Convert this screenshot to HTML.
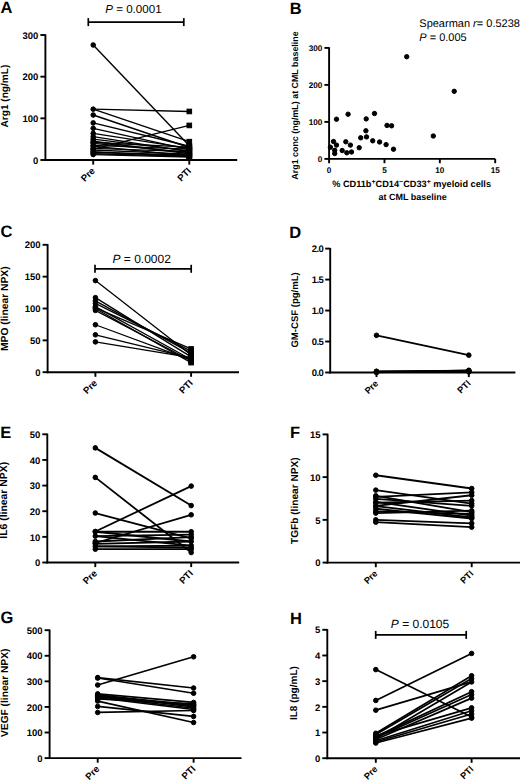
<!DOCTYPE html>
<html><head><meta charset="utf-8"><title>Figure</title>
<style>html,body{margin:0;padding:0;background:#fff;width:520px;height:780px;overflow:hidden}svg{display:block}</style>
</head><body>
<svg text-rendering="geometricPrecision" width="520" height="780" viewBox="0 0 520 780" font-family='"Liberation Sans", sans-serif' fill="#000" stroke="#000">
<line x1="45.4" y1="34.35" x2="45.4" y2="160.95" stroke-width="1.9" stroke-linecap="butt"/>
<line x1="44.45" y1="160" x2="237.2" y2="160" stroke-width="1.9" stroke-linecap="butt"/>
<line x1="40.4" y1="160" x2="45.4" y2="160" stroke-width="1.9" stroke-linecap="butt"/>
<text stroke="none" x="38.4" y="163.66" font-size="9.5" font-weight="bold" text-anchor="end">0</text>
<line x1="40.4" y1="118.33" x2="45.4" y2="118.33" stroke-width="1.9" stroke-linecap="butt"/>
<text stroke="none" x="38.4" y="121.99" font-size="9.5" font-weight="bold" text-anchor="end">100</text>
<line x1="40.4" y1="76.67" x2="45.4" y2="76.67" stroke-width="1.9" stroke-linecap="butt"/>
<text stroke="none" x="38.4" y="80.32" font-size="9.5" font-weight="bold" text-anchor="end">200</text>
<line x1="40.4" y1="35" x2="45.4" y2="35" stroke-width="1.9" stroke-linecap="butt"/>
<text stroke="none" x="38.4" y="38.66" font-size="9.5" font-weight="bold" text-anchor="end">300</text>
<text stroke="none" x="8.3" y="96.1" font-size="10.1" font-weight="bold" text-anchor="middle" transform="rotate(-90 8.3 96.1)">Arg1 (ng/mL)</text>
<text stroke="none" x="0.4" y="13.4" font-size="16.5" font-weight="bold" text-anchor="start">A</text>
<line x1="93.2" y1="160" x2="93.2" y2="164.6" stroke-width="1.9" stroke-linecap="butt"/>
<line x1="189.3" y1="160" x2="189.3" y2="164.6" stroke-width="1.9" stroke-linecap="butt"/>
<text stroke="none" x="95.6" y="171.5" font-size="9.5" font-weight="bold" text-anchor="end" transform="rotate(-45 95.6 171.5)">Pre</text>
<text stroke="none" x="191.7" y="171.5" font-size="9.5" font-weight="bold" text-anchor="end" transform="rotate(-45 191.7 171.5)">PTI</text>
<line x1="93.2" y1="45" x2="189.3" y2="145.83" stroke-width="1.4" stroke-linecap="butt"/>
<line x1="93.2" y1="109.17" x2="189.3" y2="111.46" stroke-width="1.4" stroke-linecap="butt"/>
<line x1="93.2" y1="109.17" x2="189.3" y2="141.67" stroke-width="1.4" stroke-linecap="butt"/>
<line x1="93.2" y1="115" x2="189.3" y2="147.5" stroke-width="1.4" stroke-linecap="butt"/>
<line x1="93.2" y1="122.92" x2="189.3" y2="146.25" stroke-width="1.4" stroke-linecap="butt"/>
<line x1="93.2" y1="128.33" x2="189.3" y2="149.58" stroke-width="1.4" stroke-linecap="butt"/>
<line x1="93.2" y1="133.33" x2="189.3" y2="148.33" stroke-width="1.4" stroke-linecap="butt"/>
<line x1="93.2" y1="136.67" x2="189.3" y2="151.67" stroke-width="1.4" stroke-linecap="butt"/>
<line x1="93.2" y1="139.17" x2="189.3" y2="150.83" stroke-width="1.4" stroke-linecap="butt"/>
<line x1="93.2" y1="141.25" x2="189.3" y2="153.75" stroke-width="1.4" stroke-linecap="butt"/>
<line x1="93.2" y1="142.5" x2="189.3" y2="147.08" stroke-width="1.4" stroke-linecap="butt"/>
<line x1="93.2" y1="143.33" x2="189.3" y2="152.5" stroke-width="1.4" stroke-linecap="butt"/>
<line x1="93.2" y1="145.42" x2="189.3" y2="149.17" stroke-width="1.4" stroke-linecap="butt"/>
<line x1="93.2" y1="146.25" x2="189.3" y2="155.83" stroke-width="1.4" stroke-linecap="butt"/>
<line x1="93.2" y1="148.33" x2="189.3" y2="151.67" stroke-width="1.4" stroke-linecap="butt"/>
<line x1="93.2" y1="149.17" x2="189.3" y2="125.42" stroke-width="1.4" stroke-linecap="butt"/>
<line x1="93.2" y1="150" x2="189.3" y2="154.17" stroke-width="1.4" stroke-linecap="butt"/>
<line x1="93.2" y1="151.67" x2="189.3" y2="156.67" stroke-width="1.4" stroke-linecap="butt"/>
<line x1="93.2" y1="152.5" x2="189.3" y2="155" stroke-width="1.4" stroke-linecap="butt"/>
<line x1="93.2" y1="153.75" x2="189.3" y2="156.25" stroke-width="1.4" stroke-linecap="butt"/>
<line x1="93.2" y1="154.58" x2="189.3" y2="157.08" stroke-width="1.4" stroke-linecap="butt"/>
<circle cx="93.2" cy="154.58" r="2.3"/>
<circle cx="93.2" cy="153.75" r="2.3"/>
<circle cx="93.2" cy="152.5" r="2.3"/>
<circle cx="93.2" cy="151.67" r="2.3"/>
<circle cx="93.2" cy="150" r="2.3"/>
<circle cx="93.2" cy="149.17" r="2.3"/>
<circle cx="93.2" cy="148.33" r="2.3"/>
<circle cx="93.2" cy="146.25" r="2.3"/>
<circle cx="93.2" cy="145.42" r="2.3"/>
<circle cx="93.2" cy="143.33" r="2.3"/>
<circle cx="93.2" cy="142.5" r="2.3"/>
<circle cx="93.2" cy="141.25" r="2.3"/>
<circle cx="93.2" cy="139.17" r="2.3"/>
<circle cx="93.2" cy="136.67" r="2.3"/>
<circle cx="93.2" cy="133.33" r="2.3"/>
<circle cx="93.2" cy="128.33" r="2.3"/>
<circle cx="93.2" cy="122.92" r="2.3"/>
<circle cx="93.2" cy="115" r="2.3"/>
<circle cx="93.2" cy="109.17" r="2.3"/>
<circle cx="93.2" cy="45" r="2.3"/>
<rect x="187" y="154.78" width="4.6" height="4.6"/>
<rect x="187" y="154.37" width="4.6" height="4.6"/>
<rect x="187" y="153.95" width="4.6" height="4.6"/>
<rect x="187" y="153.53" width="4.6" height="4.6"/>
<rect x="187" y="152.7" width="4.6" height="4.6"/>
<rect x="187" y="151.87" width="4.6" height="4.6"/>
<rect x="187" y="151.45" width="4.6" height="4.6"/>
<rect x="187" y="150.2" width="4.6" height="4.6"/>
<rect x="187" y="149.37" width="4.6" height="4.6"/>
<rect x="187" y="148.53" width="4.6" height="4.6"/>
<rect x="187" y="147.28" width="4.6" height="4.6"/>
<rect x="187" y="146.87" width="4.6" height="4.6"/>
<rect x="187" y="146.03" width="4.6" height="4.6"/>
<rect x="187" y="145.2" width="4.6" height="4.6"/>
<rect x="187" y="144.78" width="4.6" height="4.6"/>
<rect x="187" y="143.95" width="4.6" height="4.6"/>
<rect x="187" y="143.53" width="4.6" height="4.6"/>
<rect x="187" y="139.37" width="4.6" height="4.6"/>
<rect x="187" y="123.12" width="4.6" height="4.6"/>
<rect x="187" y="109.16" width="4.6" height="4.6"/>
<line x1="88.3" y1="22.1" x2="183.8" y2="22.1" stroke-width="1.7" stroke-linecap="butt"/>
<line x1="88.3" y1="18.1" x2="88.3" y2="26.1" stroke-width="1.7" stroke-linecap="butt"/>
<line x1="183.8" y1="18.1" x2="183.8" y2="26.1" stroke-width="1.7" stroke-linecap="butt"/>
<text stroke="none" x="133.4" y="12.8" font-size="11.6" text-anchor="middle"><tspan font-style="italic">P</tspan> = 0.0001</text>
<line x1="47.6" y1="244.15" x2="47.6" y2="373.15" stroke-width="1.9" stroke-linecap="butt"/>
<line x1="46.65" y1="372.2" x2="239" y2="372.2" stroke-width="1.9" stroke-linecap="butt"/>
<line x1="42.6" y1="372.2" x2="47.6" y2="372.2" stroke-width="1.9" stroke-linecap="butt"/>
<text stroke="none" x="40.6" y="375.86" font-size="9.5" font-weight="bold" text-anchor="end">0</text>
<line x1="42.6" y1="340.35" x2="47.6" y2="340.35" stroke-width="1.9" stroke-linecap="butt"/>
<text stroke="none" x="40.6" y="344.01" font-size="9.5" font-weight="bold" text-anchor="end">50</text>
<line x1="42.6" y1="308.5" x2="47.6" y2="308.5" stroke-width="1.9" stroke-linecap="butt"/>
<text stroke="none" x="40.6" y="312.16" font-size="9.5" font-weight="bold" text-anchor="end">100</text>
<line x1="42.6" y1="276.65" x2="47.6" y2="276.65" stroke-width="1.9" stroke-linecap="butt"/>
<text stroke="none" x="40.6" y="280.31" font-size="9.5" font-weight="bold" text-anchor="end">150</text>
<line x1="42.6" y1="244.8" x2="47.6" y2="244.8" stroke-width="1.9" stroke-linecap="butt"/>
<text stroke="none" x="40.6" y="248.46" font-size="9.5" font-weight="bold" text-anchor="end">200</text>
<text stroke="none" x="7.6" y="308.7" font-size="10.3" font-weight="bold" text-anchor="middle" transform="rotate(-90 7.6 308.7)">MPO (linear NPX)</text>
<text stroke="none" x="0.5" y="237.1" font-size="16.5" font-weight="bold" text-anchor="start">C</text>
<line x1="95.4" y1="372.2" x2="95.4" y2="376.8" stroke-width="1.9" stroke-linecap="butt"/>
<line x1="191.1" y1="372.2" x2="191.1" y2="376.8" stroke-width="1.9" stroke-linecap="butt"/>
<text stroke="none" x="97.8" y="383.7" font-size="9.5" font-weight="bold" text-anchor="end" transform="rotate(-45 97.8 383.7)">Pre</text>
<text stroke="none" x="193.5" y="383.7" font-size="9.5" font-weight="bold" text-anchor="end" transform="rotate(-45 193.5 383.7)">PTI</text>
<line x1="95.4" y1="280.6" x2="191.1" y2="355" stroke-width="1.3" stroke-linecap="butt"/>
<line x1="95.4" y1="297.67" x2="191.1" y2="356.91" stroke-width="1.3" stroke-linecap="butt"/>
<line x1="95.4" y1="300.86" x2="191.1" y2="353.09" stroke-width="1.3" stroke-linecap="butt"/>
<line x1="95.4" y1="303.4" x2="191.1" y2="351.18" stroke-width="1.3" stroke-linecap="butt"/>
<line x1="95.4" y1="306.59" x2="191.1" y2="359.46" stroke-width="1.3" stroke-linecap="butt"/>
<line x1="95.4" y1="308.5" x2="191.1" y2="362.64" stroke-width="1.3" stroke-linecap="butt"/>
<line x1="95.4" y1="310.41" x2="191.1" y2="360.73" stroke-width="1.3" stroke-linecap="butt"/>
<line x1="95.4" y1="307.86" x2="191.1" y2="348.95" stroke-width="1.3" stroke-linecap="butt"/>
<line x1="95.4" y1="324.74" x2="191.1" y2="360.1" stroke-width="1.3" stroke-linecap="butt"/>
<line x1="95.4" y1="334.81" x2="191.1" y2="358.19" stroke-width="1.3" stroke-linecap="butt"/>
<line x1="95.4" y1="341.88" x2="191.1" y2="357.55" stroke-width="1.3" stroke-linecap="butt"/>
<circle cx="95.4" cy="341.88" r="2.3"/>
<circle cx="95.4" cy="334.81" r="2.3"/>
<circle cx="95.4" cy="324.74" r="2.3"/>
<circle cx="95.4" cy="310.41" r="2.3"/>
<circle cx="95.4" cy="308.5" r="2.3"/>
<circle cx="95.4" cy="307.86" r="2.3"/>
<circle cx="95.4" cy="306.59" r="2.3"/>
<circle cx="95.4" cy="303.4" r="2.3"/>
<circle cx="95.4" cy="300.86" r="2.3"/>
<circle cx="95.4" cy="297.67" r="2.3"/>
<circle cx="95.4" cy="280.6" r="2.3"/>
<rect x="188.8" y="360.34" width="4.6" height="4.6"/>
<rect x="188.8" y="358.43" width="4.6" height="4.6"/>
<rect x="188.8" y="357.8" width="4.6" height="4.6"/>
<rect x="188.8" y="357.16" width="4.6" height="4.6"/>
<rect x="188.8" y="355.89" width="4.6" height="4.6"/>
<rect x="188.8" y="355.25" width="4.6" height="4.6"/>
<rect x="188.8" y="354.61" width="4.6" height="4.6"/>
<rect x="188.8" y="352.7" width="4.6" height="4.6"/>
<rect x="188.8" y="350.79" width="4.6" height="4.6"/>
<rect x="188.8" y="348.88" width="4.6" height="4.6"/>
<rect x="188.8" y="346.65" width="4.6" height="4.6"/>
<line x1="95" y1="268.8" x2="191.2" y2="268.8" stroke-width="1.7" stroke-linecap="butt"/>
<line x1="95" y1="264.8" x2="95" y2="272.8" stroke-width="1.7" stroke-linecap="butt"/>
<line x1="191.2" y1="264.8" x2="191.2" y2="272.8" stroke-width="1.7" stroke-linecap="butt"/>
<text stroke="none" x="141.7" y="262.8" font-size="12" text-anchor="middle"><tspan font-style="italic">P</tspan> = 0.0002</text>
<line x1="47.3" y1="433.65" x2="47.3" y2="563.45" stroke-width="1.9" stroke-linecap="butt"/>
<line x1="46.35" y1="562.5" x2="239.2" y2="562.5" stroke-width="1.9" stroke-linecap="butt"/>
<line x1="42.3" y1="562.5" x2="47.3" y2="562.5" stroke-width="1.9" stroke-linecap="butt"/>
<text stroke="none" x="40.3" y="566.16" font-size="9.5" font-weight="bold" text-anchor="end">0</text>
<line x1="42.3" y1="536.86" x2="47.3" y2="536.86" stroke-width="1.9" stroke-linecap="butt"/>
<text stroke="none" x="40.3" y="540.52" font-size="9.5" font-weight="bold" text-anchor="end">10</text>
<line x1="42.3" y1="511.22" x2="47.3" y2="511.22" stroke-width="1.9" stroke-linecap="butt"/>
<text stroke="none" x="40.3" y="514.88" font-size="9.5" font-weight="bold" text-anchor="end">20</text>
<line x1="42.3" y1="485.58" x2="47.3" y2="485.58" stroke-width="1.9" stroke-linecap="butt"/>
<text stroke="none" x="40.3" y="489.24" font-size="9.5" font-weight="bold" text-anchor="end">30</text>
<line x1="42.3" y1="459.94" x2="47.3" y2="459.94" stroke-width="1.9" stroke-linecap="butt"/>
<text stroke="none" x="40.3" y="463.6" font-size="9.5" font-weight="bold" text-anchor="end">40</text>
<line x1="42.3" y1="434.3" x2="47.3" y2="434.3" stroke-width="1.9" stroke-linecap="butt"/>
<text stroke="none" x="40.3" y="437.96" font-size="9.5" font-weight="bold" text-anchor="end">50</text>
<text stroke="none" x="7.5" y="500.3" font-size="10.4" font-weight="bold" text-anchor="middle" transform="rotate(-90 7.5 500.3)">IL6 (linear NPX)</text>
<text stroke="none" x="0.3" y="438.3" font-size="16.5" font-weight="bold" text-anchor="start">E</text>
<line x1="95.3" y1="562.5" x2="95.3" y2="567.1" stroke-width="1.9" stroke-linecap="butt"/>
<line x1="191.2" y1="562.5" x2="191.2" y2="567.1" stroke-width="1.9" stroke-linecap="butt"/>
<text stroke="none" x="97.7" y="574" font-size="9.5" font-weight="bold" text-anchor="end" transform="rotate(-45 97.7 574)">Pre</text>
<text stroke="none" x="193.6" y="574" font-size="9.5" font-weight="bold" text-anchor="end" transform="rotate(-45 193.6 574)">PTI</text>
<line x1="95.3" y1="447.89" x2="191.2" y2="505.58" stroke-width="1.8" stroke-linecap="butt"/>
<line x1="95.3" y1="477.38" x2="191.2" y2="552.5" stroke-width="1.8" stroke-linecap="butt"/>
<line x1="95.3" y1="513.01" x2="191.2" y2="538.4" stroke-width="1.8" stroke-linecap="butt"/>
<line x1="95.3" y1="531.48" x2="191.2" y2="486.09" stroke-width="1.8" stroke-linecap="butt"/>
<line x1="95.3" y1="531.73" x2="191.2" y2="531.73" stroke-width="1.8" stroke-linecap="butt"/>
<line x1="95.3" y1="536.09" x2="191.2" y2="534.55" stroke-width="1.8" stroke-linecap="butt"/>
<line x1="95.3" y1="543.01" x2="191.2" y2="514.81" stroke-width="1.8" stroke-linecap="butt"/>
<line x1="95.3" y1="541.48" x2="191.2" y2="537.12" stroke-width="1.8" stroke-linecap="butt"/>
<line x1="95.3" y1="536.09" x2="191.2" y2="545.58" stroke-width="1.8" stroke-linecap="butt"/>
<line x1="95.3" y1="543.78" x2="191.2" y2="541.48" stroke-width="1.8" stroke-linecap="butt"/>
<line x1="95.3" y1="546.35" x2="191.2" y2="547.63" stroke-width="1.8" stroke-linecap="butt"/>
<line x1="95.3" y1="549.17" x2="191.2" y2="549.17" stroke-width="1.8" stroke-linecap="butt"/>
<line x1="95.3" y1="546.35" x2="191.2" y2="545.58" stroke-width="1.8" stroke-linecap="butt"/>
<line x1="95.3" y1="531.73" x2="191.2" y2="541.48" stroke-width="1.8" stroke-linecap="butt"/>
<circle cx="95.3" cy="549.17" r="2.3"/>
<circle cx="95.3" cy="546.35" r="2.3"/>
<circle cx="95.3" cy="543.78" r="2.3"/>
<circle cx="95.3" cy="543.01" r="2.3"/>
<circle cx="95.3" cy="541.48" r="2.3"/>
<circle cx="95.3" cy="536.09" r="2.3"/>
<circle cx="95.3" cy="531.73" r="2.3"/>
<circle cx="95.3" cy="531.48" r="2.3"/>
<circle cx="95.3" cy="513.01" r="2.3"/>
<circle cx="95.3" cy="477.38" r="2.3"/>
<circle cx="95.3" cy="447.89" r="2.3"/>
<circle cx="191.2" cy="552.5" r="2.3"/>
<circle cx="191.2" cy="549.17" r="2.3"/>
<circle cx="191.2" cy="547.63" r="2.3"/>
<circle cx="191.2" cy="545.58" r="2.3"/>
<circle cx="191.2" cy="541.48" r="2.3"/>
<circle cx="191.2" cy="538.4" r="2.3"/>
<circle cx="191.2" cy="537.12" r="2.3"/>
<circle cx="191.2" cy="534.55" r="2.3"/>
<circle cx="191.2" cy="531.73" r="2.3"/>
<circle cx="191.2" cy="514.81" r="2.3"/>
<circle cx="191.2" cy="505.58" r="2.3"/>
<circle cx="191.2" cy="486.09" r="2.3"/>
<line x1="49.6" y1="629.55" x2="49.6" y2="759.05" stroke-width="1.9" stroke-linecap="butt"/>
<line x1="48.65" y1="758.1" x2="241.5" y2="758.1" stroke-width="1.9" stroke-linecap="butt"/>
<line x1="44.6" y1="758.1" x2="49.6" y2="758.1" stroke-width="1.9" stroke-linecap="butt"/>
<text stroke="none" x="42.6" y="761.76" font-size="9.5" font-weight="bold" text-anchor="end">0</text>
<line x1="44.6" y1="732.52" x2="49.6" y2="732.52" stroke-width="1.9" stroke-linecap="butt"/>
<text stroke="none" x="42.6" y="736.18" font-size="9.5" font-weight="bold" text-anchor="end">100</text>
<line x1="44.6" y1="706.94" x2="49.6" y2="706.94" stroke-width="1.9" stroke-linecap="butt"/>
<text stroke="none" x="42.6" y="710.6" font-size="9.5" font-weight="bold" text-anchor="end">200</text>
<line x1="44.6" y1="681.36" x2="49.6" y2="681.36" stroke-width="1.9" stroke-linecap="butt"/>
<text stroke="none" x="42.6" y="685.02" font-size="9.5" font-weight="bold" text-anchor="end">300</text>
<line x1="44.6" y1="655.78" x2="49.6" y2="655.78" stroke-width="1.9" stroke-linecap="butt"/>
<text stroke="none" x="42.6" y="659.44" font-size="9.5" font-weight="bold" text-anchor="end">400</text>
<line x1="44.6" y1="630.2" x2="49.6" y2="630.2" stroke-width="1.9" stroke-linecap="butt"/>
<text stroke="none" x="42.6" y="633.86" font-size="9.5" font-weight="bold" text-anchor="end">500</text>
<text stroke="none" x="7.7" y="692.8" font-size="10.2" font-weight="bold" text-anchor="middle" transform="rotate(-90 7.7 692.8)">VEGF (linear NPX)</text>
<text stroke="none" x="0.4" y="622.9" font-size="16.5" font-weight="bold" text-anchor="start">G</text>
<line x1="97.7" y1="758.1" x2="97.7" y2="762.7" stroke-width="1.9" stroke-linecap="butt"/>
<line x1="193.6" y1="758.1" x2="193.6" y2="762.7" stroke-width="1.9" stroke-linecap="butt"/>
<text stroke="none" x="100.1" y="769.6" font-size="9.5" font-weight="bold" text-anchor="end" transform="rotate(-45 100.1 769.6)">Pre</text>
<text stroke="none" x="196" y="769.6" font-size="9.5" font-weight="bold" text-anchor="end" transform="rotate(-45 196 769.6)">PTI</text>
<line x1="97.7" y1="677.63" x2="193.6" y2="688.01" stroke-width="1.7" stroke-linecap="butt"/>
<line x1="97.7" y1="685.04" x2="193.6" y2="656.8" stroke-width="1.7" stroke-linecap="butt"/>
<line x1="97.7" y1="678.03" x2="193.6" y2="693.25" stroke-width="1.7" stroke-linecap="butt"/>
<line x1="97.7" y1="693.89" x2="193.6" y2="702.44" stroke-width="1.7" stroke-linecap="butt"/>
<line x1="97.7" y1="695.43" x2="193.6" y2="704.89" stroke-width="1.7" stroke-linecap="butt"/>
<line x1="97.7" y1="696.71" x2="193.6" y2="708.22" stroke-width="1.7" stroke-linecap="butt"/>
<line x1="97.7" y1="697.73" x2="193.6" y2="709.5" stroke-width="1.7" stroke-linecap="butt"/>
<line x1="97.7" y1="699.01" x2="193.6" y2="703.87" stroke-width="1.7" stroke-linecap="butt"/>
<line x1="97.7" y1="701.06" x2="193.6" y2="722.54" stroke-width="1.7" stroke-linecap="butt"/>
<line x1="97.7" y1="706.43" x2="193.6" y2="716.4" stroke-width="1.7" stroke-linecap="butt"/>
<line x1="97.7" y1="712.44" x2="193.6" y2="710.52" stroke-width="1.7" stroke-linecap="butt"/>
<line x1="97.7" y1="694.92" x2="193.6" y2="706.94" stroke-width="1.7" stroke-linecap="butt"/>
<line x1="97.7" y1="695.94" x2="193.6" y2="705.66" stroke-width="1.7" stroke-linecap="butt"/>
<circle cx="97.7" cy="712.44" r="2.3"/>
<circle cx="97.7" cy="706.43" r="2.3"/>
<circle cx="97.7" cy="701.06" r="2.3"/>
<circle cx="97.7" cy="699.01" r="2.3"/>
<circle cx="97.7" cy="697.73" r="2.3"/>
<circle cx="97.7" cy="696.71" r="2.3"/>
<circle cx="97.7" cy="695.94" r="2.3"/>
<circle cx="97.7" cy="695.43" r="2.3"/>
<circle cx="97.7" cy="694.92" r="2.3"/>
<circle cx="97.7" cy="693.89" r="2.3"/>
<circle cx="97.7" cy="685.04" r="2.3"/>
<circle cx="97.7" cy="678.03" r="2.3"/>
<circle cx="97.7" cy="677.63" r="2.3"/>
<circle cx="193.6" cy="722.54" r="2.3"/>
<circle cx="193.6" cy="716.4" r="2.3"/>
<circle cx="193.6" cy="710.52" r="2.3"/>
<circle cx="193.6" cy="709.5" r="2.3"/>
<circle cx="193.6" cy="708.22" r="2.3"/>
<circle cx="193.6" cy="706.94" r="2.3"/>
<circle cx="193.6" cy="705.66" r="2.3"/>
<circle cx="193.6" cy="704.89" r="2.3"/>
<circle cx="193.6" cy="703.87" r="2.3"/>
<circle cx="193.6" cy="702.44" r="2.3"/>
<circle cx="193.6" cy="693.25" r="2.3"/>
<circle cx="193.6" cy="688.01" r="2.3"/>
<circle cx="193.6" cy="656.8" r="2.3"/>
<line x1="330.2" y1="247.95" x2="330.2" y2="373.45" stroke-width="1.9" stroke-linecap="butt"/>
<line x1="329.25" y1="372.5" x2="515.4" y2="372.5" stroke-width="1.9" stroke-linecap="butt"/>
<line x1="325.2" y1="372.5" x2="330.2" y2="372.5" stroke-width="1.9" stroke-linecap="butt"/>
<text stroke="none" x="323.2" y="376.16" font-size="9.5" font-weight="bold" text-anchor="end" letter-spacing="-0.6">0.0</text>
<line x1="325.2" y1="341.52" x2="330.2" y2="341.52" stroke-width="1.9" stroke-linecap="butt"/>
<text stroke="none" x="323.2" y="345.18" font-size="9.5" font-weight="bold" text-anchor="end" letter-spacing="-0.6">0.5</text>
<line x1="325.2" y1="310.55" x2="330.2" y2="310.55" stroke-width="1.9" stroke-linecap="butt"/>
<text stroke="none" x="323.2" y="314.21" font-size="9.5" font-weight="bold" text-anchor="end" letter-spacing="-0.6">1.0</text>
<line x1="325.2" y1="279.57" x2="330.2" y2="279.57" stroke-width="1.9" stroke-linecap="butt"/>
<text stroke="none" x="323.2" y="283.23" font-size="9.5" font-weight="bold" text-anchor="end" letter-spacing="-0.6">1.5</text>
<line x1="325.2" y1="248.6" x2="330.2" y2="248.6" stroke-width="1.9" stroke-linecap="butt"/>
<text stroke="none" x="323.2" y="252.26" font-size="9.5" font-weight="bold" text-anchor="end" letter-spacing="-0.6">2.0</text>
<text stroke="none" x="297.8" y="309.9" font-size="9.55" font-weight="bold" text-anchor="middle" transform="rotate(-90 297.8 309.9)">GM-CSF (pg/mL)</text>
<text stroke="none" x="289.2" y="237.7" font-size="16.5" font-weight="bold" text-anchor="start">D</text>
<line x1="376.5" y1="372.5" x2="376.5" y2="377.1" stroke-width="1.9" stroke-linecap="butt"/>
<line x1="468.8" y1="372.5" x2="468.8" y2="377.1" stroke-width="1.9" stroke-linecap="butt"/>
<text stroke="none" x="378.9" y="384" font-size="9.2" font-weight="bold" text-anchor="end" transform="rotate(-45 378.9 384)">Pre</text>
<text stroke="none" x="471.2" y="384" font-size="9.2" font-weight="bold" text-anchor="end" transform="rotate(-45 471.2 384)">PTI</text>
<line x1="376.5" y1="335.33" x2="468.8" y2="355.15" stroke-width="1.7" stroke-linecap="butt"/>
<line x1="376.5" y1="371.26" x2="468.8" y2="370.64" stroke-width="1.7" stroke-linecap="butt"/>
<line x1="376.5" y1="371.88" x2="468.8" y2="371.26" stroke-width="1.7" stroke-linecap="butt"/>
<line x1="376.5" y1="371.57" x2="468.8" y2="370.95" stroke-width="1.7" stroke-linecap="butt"/>
<line x1="376.5" y1="372.19" x2="468.8" y2="371.88" stroke-width="1.7" stroke-linecap="butt"/>
<line x1="376.5" y1="372.5" x2="468.8" y2="370.33" stroke-width="1.7" stroke-linecap="butt"/>
<circle cx="376.5" cy="372.5" r="2.3"/>
<circle cx="376.5" cy="372.19" r="2.3"/>
<circle cx="376.5" cy="371.88" r="2.3"/>
<circle cx="376.5" cy="371.57" r="2.3"/>
<circle cx="376.5" cy="371.26" r="2.3"/>
<circle cx="376.5" cy="335.33" r="2.3"/>
<circle cx="468.8" cy="371.88" r="2.3"/>
<circle cx="468.8" cy="371.26" r="2.3"/>
<circle cx="468.8" cy="370.95" r="2.3"/>
<circle cx="468.8" cy="370.64" r="2.3"/>
<circle cx="468.8" cy="370.33" r="2.3"/>
<circle cx="468.8" cy="355.15" r="2.3"/>
<line x1="327.6" y1="433.75" x2="327.6" y2="563.55" stroke-width="1.9" stroke-linecap="butt"/>
<line x1="326.65" y1="562.6" x2="520" y2="562.6" stroke-width="1.9" stroke-linecap="butt"/>
<line x1="322.6" y1="562.6" x2="327.6" y2="562.6" stroke-width="1.9" stroke-linecap="butt"/>
<text stroke="none" x="320.6" y="566.26" font-size="9.5" font-weight="bold" text-anchor="end">0</text>
<line x1="322.6" y1="519.87" x2="327.6" y2="519.87" stroke-width="1.9" stroke-linecap="butt"/>
<text stroke="none" x="320.6" y="523.52" font-size="9.5" font-weight="bold" text-anchor="end">5</text>
<line x1="322.6" y1="477.13" x2="327.6" y2="477.13" stroke-width="1.9" stroke-linecap="butt"/>
<text stroke="none" x="320.6" y="480.79" font-size="9.5" font-weight="bold" text-anchor="end">10</text>
<line x1="322.6" y1="434.4" x2="327.6" y2="434.4" stroke-width="1.9" stroke-linecap="butt"/>
<text stroke="none" x="320.6" y="438.06" font-size="9.5" font-weight="bold" text-anchor="end">15</text>
<text stroke="none" x="297.6" y="500.7" font-size="10.15" font-weight="bold" text-anchor="middle" transform="rotate(-90 297.6 500.7)">TGFb (linear NPX)</text>
<text stroke="none" x="290" y="437.7" font-size="16.5" font-weight="bold" text-anchor="start">F</text>
<line x1="375.8" y1="562.6" x2="375.8" y2="567.2" stroke-width="1.9" stroke-linecap="butt"/>
<line x1="471.7" y1="562.6" x2="471.7" y2="567.2" stroke-width="1.9" stroke-linecap="butt"/>
<text stroke="none" x="378.2" y="574.1" font-size="9.2" font-weight="bold" text-anchor="end" transform="rotate(-45 378.2 574.1)">Pre</text>
<text stroke="none" x="474.1" y="574.1" font-size="9.2" font-weight="bold" text-anchor="end" transform="rotate(-45 474.1 574.1)">PTI</text>
<line x1="375.8" y1="475.25" x2="471.7" y2="488.5" stroke-width="1.8" stroke-linecap="butt"/>
<line x1="375.8" y1="490.12" x2="471.7" y2="503.63" stroke-width="1.8" stroke-linecap="butt"/>
<line x1="375.8" y1="495.77" x2="471.7" y2="512.17" stroke-width="1.8" stroke-linecap="butt"/>
<line x1="375.8" y1="496.79" x2="471.7" y2="492.35" stroke-width="1.8" stroke-linecap="butt"/>
<line x1="375.8" y1="498.93" x2="471.7" y2="505.85" stroke-width="1.8" stroke-linecap="butt"/>
<line x1="375.8" y1="501.92" x2="471.7" y2="515.59" stroke-width="1.8" stroke-linecap="butt"/>
<line x1="375.8" y1="502.77" x2="471.7" y2="500.55" stroke-width="1.8" stroke-linecap="butt"/>
<line x1="375.8" y1="505.85" x2="471.7" y2="495.25" stroke-width="1.8" stroke-linecap="butt"/>
<line x1="375.8" y1="508.76" x2="471.7" y2="518.5" stroke-width="1.8" stroke-linecap="butt"/>
<line x1="375.8" y1="511.32" x2="471.7" y2="513.88" stroke-width="1.8" stroke-linecap="butt"/>
<line x1="375.8" y1="513.11" x2="471.7" y2="510.72" stroke-width="1.8" stroke-linecap="butt"/>
<line x1="375.8" y1="506.19" x2="471.7" y2="517.3" stroke-width="1.8" stroke-linecap="butt"/>
<line x1="375.8" y1="519.87" x2="471.7" y2="523.29" stroke-width="1.8" stroke-linecap="butt"/>
<line x1="375.8" y1="522.17" x2="471.7" y2="527.13" stroke-width="1.8" stroke-linecap="butt"/>
<circle cx="375.8" cy="522.17" r="2.3"/>
<circle cx="375.8" cy="519.87" r="2.3"/>
<circle cx="375.8" cy="513.11" r="2.3"/>
<circle cx="375.8" cy="511.32" r="2.3"/>
<circle cx="375.8" cy="508.76" r="2.3"/>
<circle cx="375.8" cy="506.19" r="2.3"/>
<circle cx="375.8" cy="505.85" r="2.3"/>
<circle cx="375.8" cy="502.77" r="2.3"/>
<circle cx="375.8" cy="501.92" r="2.3"/>
<circle cx="375.8" cy="498.93" r="2.3"/>
<circle cx="375.8" cy="496.79" r="2.3"/>
<circle cx="375.8" cy="495.77" r="2.3"/>
<circle cx="375.8" cy="490.12" r="2.3"/>
<circle cx="375.8" cy="475.25" r="2.3"/>
<circle cx="471.7" cy="527.13" r="2.3"/>
<circle cx="471.7" cy="523.29" r="2.3"/>
<circle cx="471.7" cy="518.5" r="2.3"/>
<circle cx="471.7" cy="517.3" r="2.3"/>
<circle cx="471.7" cy="515.59" r="2.3"/>
<circle cx="471.7" cy="513.88" r="2.3"/>
<circle cx="471.7" cy="512.17" r="2.3"/>
<circle cx="471.7" cy="510.72" r="2.3"/>
<circle cx="471.7" cy="505.85" r="2.3"/>
<circle cx="471.7" cy="503.63" r="2.3"/>
<circle cx="471.7" cy="500.55" r="2.3"/>
<circle cx="471.7" cy="495.25" r="2.3"/>
<circle cx="471.7" cy="492.35" r="2.3"/>
<circle cx="471.7" cy="488.5" r="2.3"/>
<line x1="327.3" y1="629.15" x2="327.3" y2="759.15" stroke-width="1.9" stroke-linecap="butt"/>
<line x1="326.35" y1="758.2" x2="520" y2="758.2" stroke-width="1.9" stroke-linecap="butt"/>
<line x1="322.3" y1="758.2" x2="327.3" y2="758.2" stroke-width="1.9" stroke-linecap="butt"/>
<text stroke="none" x="320.3" y="761.86" font-size="9.5" font-weight="bold" text-anchor="end">0</text>
<line x1="322.3" y1="732.52" x2="327.3" y2="732.52" stroke-width="1.9" stroke-linecap="butt"/>
<text stroke="none" x="320.3" y="736.18" font-size="9.5" font-weight="bold" text-anchor="end">1</text>
<line x1="322.3" y1="706.84" x2="327.3" y2="706.84" stroke-width="1.9" stroke-linecap="butt"/>
<text stroke="none" x="320.3" y="710.5" font-size="9.5" font-weight="bold" text-anchor="end">2</text>
<line x1="322.3" y1="681.16" x2="327.3" y2="681.16" stroke-width="1.9" stroke-linecap="butt"/>
<text stroke="none" x="320.3" y="684.82" font-size="9.5" font-weight="bold" text-anchor="end">3</text>
<line x1="322.3" y1="655.48" x2="327.3" y2="655.48" stroke-width="1.9" stroke-linecap="butt"/>
<text stroke="none" x="320.3" y="659.14" font-size="9.5" font-weight="bold" text-anchor="end">4</text>
<line x1="322.3" y1="629.8" x2="327.3" y2="629.8" stroke-width="1.9" stroke-linecap="butt"/>
<text stroke="none" x="320.3" y="633.46" font-size="9.5" font-weight="bold" text-anchor="end">5</text>
<text stroke="none" x="297.4" y="693.1" font-size="10" font-weight="bold" text-anchor="middle" transform="rotate(-90 297.4 693.1)">IL8 (pg/mL)</text>
<text stroke="none" x="290" y="623.5" font-size="16.5" font-weight="bold" text-anchor="start">H</text>
<line x1="375.8" y1="758.2" x2="375.8" y2="762.8" stroke-width="1.9" stroke-linecap="butt"/>
<line x1="471.6" y1="758.2" x2="471.6" y2="762.8" stroke-width="1.9" stroke-linecap="butt"/>
<text stroke="none" x="378.2" y="769.7" font-size="9.2" font-weight="bold" text-anchor="end" transform="rotate(-45 378.2 769.7)">Pre</text>
<text stroke="none" x="474" y="769.7" font-size="9.2" font-weight="bold" text-anchor="end" transform="rotate(-45 474 769.7)">PTI</text>
<line x1="375.8" y1="669.6" x2="471.6" y2="717.11" stroke-width="1.7" stroke-linecap="butt"/>
<line x1="375.8" y1="700.42" x2="471.6" y2="653.43" stroke-width="1.7" stroke-linecap="butt"/>
<line x1="375.8" y1="710.18" x2="471.6" y2="681.93" stroke-width="1.7" stroke-linecap="butt"/>
<line x1="375.8" y1="733.29" x2="471.6" y2="675.77" stroke-width="1.7" stroke-linecap="butt"/>
<line x1="375.8" y1="734.57" x2="471.6" y2="678.59" stroke-width="1.7" stroke-linecap="butt"/>
<line x1="375.8" y1="736.63" x2="471.6" y2="691.69" stroke-width="1.7" stroke-linecap="butt"/>
<line x1="375.8" y1="737.66" x2="471.6" y2="694.51" stroke-width="1.7" stroke-linecap="butt"/>
<line x1="375.8" y1="739.45" x2="471.6" y2="698.11" stroke-width="1.7" stroke-linecap="butt"/>
<line x1="375.8" y1="735.86" x2="471.6" y2="707.87" stroke-width="1.7" stroke-linecap="butt"/>
<line x1="375.8" y1="740.74" x2="471.6" y2="710.69" stroke-width="1.7" stroke-linecap="butt"/>
<line x1="375.8" y1="742.02" x2="471.6" y2="714.03" stroke-width="1.7" stroke-linecap="butt"/>
<line x1="375.8" y1="743.05" x2="471.6" y2="718.14" stroke-width="1.7" stroke-linecap="butt"/>
<line x1="375.8" y1="738.43" x2="471.6" y2="681.93" stroke-width="1.7" stroke-linecap="butt"/>
<circle cx="375.8" cy="743.05" r="2.3"/>
<circle cx="375.8" cy="742.02" r="2.3"/>
<circle cx="375.8" cy="740.74" r="2.3"/>
<circle cx="375.8" cy="739.45" r="2.3"/>
<circle cx="375.8" cy="738.43" r="2.3"/>
<circle cx="375.8" cy="737.66" r="2.3"/>
<circle cx="375.8" cy="736.63" r="2.3"/>
<circle cx="375.8" cy="735.86" r="2.3"/>
<circle cx="375.8" cy="734.57" r="2.3"/>
<circle cx="375.8" cy="733.29" r="2.3"/>
<circle cx="375.8" cy="710.18" r="2.3"/>
<circle cx="375.8" cy="700.42" r="2.3"/>
<circle cx="375.8" cy="669.6" r="2.3"/>
<circle cx="471.6" cy="718.14" r="2.3"/>
<circle cx="471.6" cy="717.11" r="2.3"/>
<circle cx="471.6" cy="714.03" r="2.3"/>
<circle cx="471.6" cy="710.69" r="2.3"/>
<circle cx="471.6" cy="707.87" r="2.3"/>
<circle cx="471.6" cy="698.11" r="2.3"/>
<circle cx="471.6" cy="694.51" r="2.3"/>
<circle cx="471.6" cy="691.69" r="2.3"/>
<circle cx="471.6" cy="681.93" r="2.3"/>
<circle cx="471.6" cy="678.59" r="2.3"/>
<circle cx="471.6" cy="675.77" r="2.3"/>
<circle cx="471.6" cy="653.43" r="2.3"/>
<line x1="375.7" y1="634.9" x2="466.2" y2="634.9" stroke-width="1.7" stroke-linecap="butt"/>
<line x1="375.7" y1="630.9" x2="375.7" y2="638.9" stroke-width="1.7" stroke-linecap="butt"/>
<line x1="466.2" y1="630.9" x2="466.2" y2="638.9" stroke-width="1.7" stroke-linecap="butt"/>
<text stroke="none" x="420" y="627.9" font-size="12" text-anchor="middle"><tspan font-style="italic">P</tspan> = 0.0105</text>
<line x1="329.1" y1="47.25" x2="329.1" y2="159.85" stroke-width="1.9" stroke-linecap="butt"/>
<line x1="328.15" y1="158.9" x2="495.2" y2="158.9" stroke-width="1.9" stroke-linecap="butt"/>
<line x1="324.4" y1="158.9" x2="329.1" y2="158.9" stroke-width="1.9" stroke-linecap="butt"/>
<text stroke="none" x="322.4" y="162.06" font-size="8.2" font-weight="bold" text-anchor="end">0</text>
<line x1="324.4" y1="121.9" x2="329.1" y2="121.9" stroke-width="1.9" stroke-linecap="butt"/>
<text stroke="none" x="322.4" y="125.06" font-size="8.2" font-weight="bold" text-anchor="end">100</text>
<line x1="324.4" y1="84.9" x2="329.1" y2="84.9" stroke-width="1.9" stroke-linecap="butt"/>
<text stroke="none" x="322.4" y="88.06" font-size="8.2" font-weight="bold" text-anchor="end">200</text>
<line x1="324.4" y1="47.9" x2="329.1" y2="47.9" stroke-width="1.9" stroke-linecap="butt"/>
<text stroke="none" x="322.4" y="51.06" font-size="8.2" font-weight="bold" text-anchor="end">300</text>
<text stroke="none" x="297.9" y="105.5" font-size="8.9" font-weight="bold" text-anchor="middle" transform="rotate(-90 297.9 105.5)">Arg1 conc (ng/mL) at CML baseline</text>
<text stroke="none" x="289.8" y="13.75" font-size="16.5" font-weight="bold" text-anchor="start">B</text>
<line x1="329.1" y1="158.9" x2="329.1" y2="163.2" stroke-width="1.9" stroke-linecap="butt"/>
<text stroke="none" x="329.1" y="172.6" font-size="8.2" font-weight="bold" text-anchor="middle">0</text>
<line x1="384.47" y1="158.9" x2="384.47" y2="163.2" stroke-width="1.9" stroke-linecap="butt"/>
<text stroke="none" x="384.47" y="172.6" font-size="8.2" font-weight="bold" text-anchor="middle">5</text>
<line x1="439.83" y1="158.9" x2="439.83" y2="163.2" stroke-width="1.9" stroke-linecap="butt"/>
<text stroke="none" x="439.83" y="172.6" font-size="8.2" font-weight="bold" text-anchor="middle">10</text>
<line x1="495.2" y1="158.9" x2="495.2" y2="163.2" stroke-width="1.9" stroke-linecap="butt"/>
<text stroke="none" x="495.2" y="172.6" font-size="8.2" font-weight="bold" text-anchor="middle">15</text>
<circle cx="336.5" cy="119.2" r="2.2"/>
<circle cx="348.1" cy="114.2" r="2.2"/>
<circle cx="374.5" cy="113.5" r="2.2"/>
<circle cx="366.2" cy="118.9" r="2.2"/>
<circle cx="387" cy="125.4" r="2.2"/>
<circle cx="391.6" cy="125.8" r="2.2"/>
<circle cx="365.9" cy="130.8" r="2.2"/>
<circle cx="360.7" cy="137.8" r="2.2"/>
<circle cx="366.5" cy="136.9" r="2.2"/>
<circle cx="372.7" cy="140.8" r="2.2"/>
<circle cx="379.6" cy="142" r="2.2"/>
<circle cx="386.1" cy="144.6" r="2.2"/>
<circle cx="393.5" cy="149.2" r="2.2"/>
<circle cx="333.5" cy="141.5" r="2.2"/>
<circle cx="336.5" cy="145.1" r="2.2"/>
<circle cx="330.4" cy="147.2" r="2.2"/>
<circle cx="345.8" cy="141.8" r="2.2"/>
<circle cx="350.4" cy="145.1" r="2.2"/>
<circle cx="359.2" cy="147.7" r="2.2"/>
<circle cx="342.2" cy="150.5" r="2.2"/>
<circle cx="346.8" cy="152.8" r="2.2"/>
<circle cx="351.5" cy="152" r="2.2"/>
<circle cx="334.7" cy="150.3" r="2.2"/>
<circle cx="334.7" cy="153.5" r="2.2"/>
<circle cx="406.7" cy="56.7" r="2.2"/>
<circle cx="454.2" cy="91.3" r="2.2"/>
<circle cx="433.3" cy="136" r="2.2"/>
<text stroke="none" x="411.6" y="186.9" font-size="9.2" font-weight="bold" text-anchor="middle">% CD11b<tspan font-size="7" dy="-2.6">+</tspan><tspan dy="2.6">CD14</tspan><tspan font-size="7" dy="-2.6">&#8722;</tspan><tspan dy="2.6">CD33</tspan><tspan font-size="7" dy="-2.6">+</tspan><tspan dy="2.6"> myeloid cells</tspan></text>
<text stroke="none" x="412.6" y="199.9" font-size="9" font-weight="bold" text-anchor="middle">at CML baseline</text>
<text stroke="none" x="419.3" y="27.3" font-size="11">Spearman <tspan font-style="italic">r</tspan>= 0.5238</text>
<text stroke="none" x="419.3" y="41.2" font-size="11"><tspan font-style="italic">P</tspan> = 0.005</text>
</svg>
</body></html>
